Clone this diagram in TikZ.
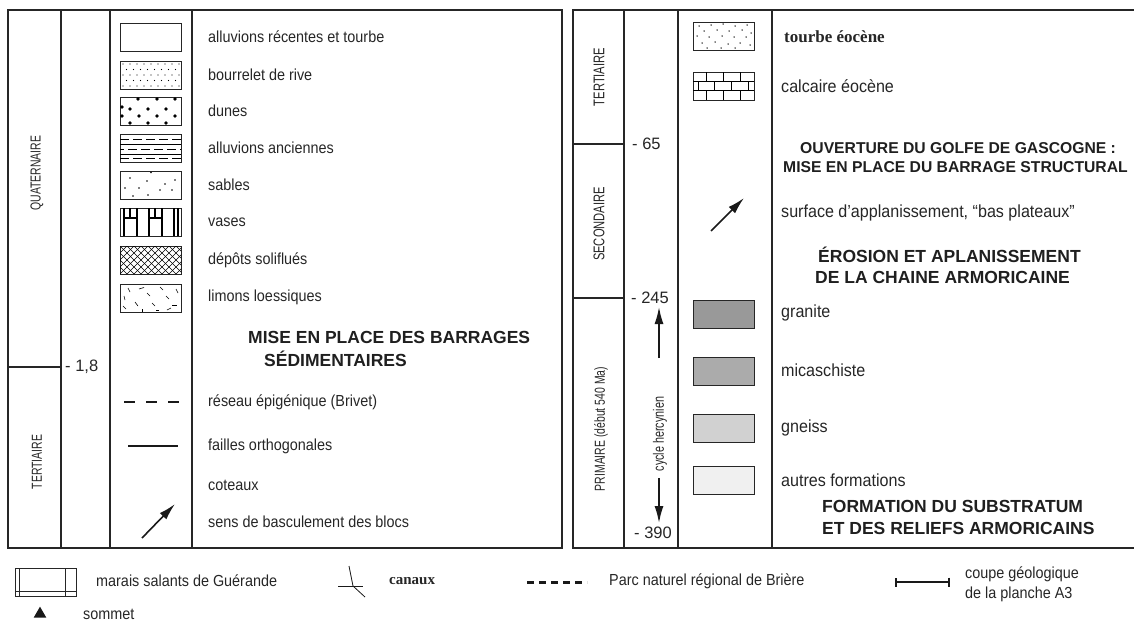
\documentclass[tikz,border=0pt]{standalone}
\usepackage{fontspec}
\setmainfont{Liberation Sans}
\newfontfamily\narrowf{Liberation Sans}[FakeStretch=0.9]
\newfontfamily\narrowrf{Liberation Sans}[FakeStretch=0.92]
\newfontfamily\vnarrowf{Liberation Sans}[FakeStretch=0.72]
\newfontfamily\serifbf{Liberation Serif}
\usetikzlibrary{arrows.meta,shapes.geometric}
\begin{document}
\begin{tikzpicture}[x=1pt,y=-1pt,
  frame/.style={draw=black!85,line width=1.1pt},
  lab/.style={anchor=west,font=\narrowf\fontsize{16}{19}\selectfont,text=black!85,inner sep=0},
  labr/.style={anchor=west,font=\narrowrf\fontsize{17.5}{20}\selectfont,text=black!85,inner sep=0},
  vlab/.style={rotate=90,font=\vnarrowf\fontsize{14.5}{16}\selectfont,text=black!85,inner sep=0},
  vlabr/.style={rotate=90,font=\vnarrowf\fontsize{15.5}{17}\selectfont,text=black!85,inner sep=0},
  head/.style={anchor=west,font=\bfseries\fontsize{17.5}{20}\selectfont,text=black!88,inner sep=0},
  headr/.style={anchor=west,font=\bfseries\fontsize{15.7}{18}\selectfont,text=black!88,inner sep=0},
  num/.style={anchor=west,font=\fontsize{16.5}{19}\selectfont,text=black!85,inner sep=0},
  slab/.style={anchor=west,font=\serifbf\bfseries\fontsize{15}{18}\selectfont,text=black!85,inner sep=0},
  sw/.style={draw=black!85,line width=0.9pt,minimum width=61pt,minimum height=28pt,inner sep=0,anchor=north west},
  arr/.style={-{Latex[length=17pt,width=9pt]},line width=1.6pt,black!90}
]
\useasboundingbox (0,0) rectangle (1134,627);

% ---------- left panel ----------
\draw[frame] (8,10) rectangle (562,548);
\draw[frame] (61,10) -- (61,548);
\draw[frame] (110,10) -- (110,548);
\draw[frame] (192,10) -- (192,548);
\draw[frame] (8,367) -- (61,367);
\node[vlab] (quat) at (37,173) {QUATERNAIRE};
\node[vlab] (tertl) at (37,462) {TERTIAIRE};
\node[num] (n18) at (65,367) {- 1,8};

% swatches left
\node[sw] (s1) at (120,23) {};
\node[sw] (s2) at (120,61) {};
\node[sw] (s3) at (120,97) {};
\node[sw] (s4) at (120,134) {};
\node[sw] (s5) at (120,171) {};
\node[sw] (s6) at (120,208) {};
\node[sw] (s7) at (120,246) {};
\node[sw] (s8) at (120,284) {};

\begin{scope}[shift={(s2.north west)}]
  \clip (0,0) rectangle (61,28);
  \foreach \j in {0,...,4} \foreach \i in {0,...,8}
    \fill ({3+\i*7+mod(\j,2)*3.5},{3+\j*5.5}) circle (0.6);
\end{scope}
\begin{scope}[shift={(s3.north west)}]
  \clip (0,0) rectangle (61,28);
  \foreach \p in {(18,2),(37,2),(55,2),(2,10),(10,12),(28,12),(46,12),(19,19),(37,19),(55,19),(2,19),(10,26),(28,26),(46,26)}
    \fill \p circle (1.9);
\end{scope}
\begin{scope}[shift={(s4.north west)},line width=0.7pt]
  \draw[dash pattern=on 9pt off 4pt] (0,5) -- (61,5);
  \draw (0,10) -- (61,10);
  \draw[dash pattern=on 9pt off 4pt,dash phase=5pt] (0,15) -- (61,15);
  \draw (0,20) -- (61,20);
  \draw[dash pattern=on 9pt off 4pt] (0,24.5) -- (61,24.5);
\end{scope}
\begin{scope}[shift={(s5.north west)}]
  \foreach \p in {(31,1.5),(10,7),(27,10),(55,9),(45,13),(5,17),(19,17),(40,19),(52,19),(13,25),(28,24)}
    \fill \p circle (0.9);
\end{scope}
\begin{scope}[shift={(s6.north west)},line width=1.3pt]
  \foreach \x in {4,17,29,42,54,58} \draw (\x,0) -- (\x,28);
  \draw (4,10) -- (17,10);
  \draw (29,10) -- (42,10);
  \draw (10,0) -- (10,10);
  \draw (35,0) -- (35,10);
\end{scope}
\begin{scope}[shift={(s7.north west)},line width=0.6pt]
  \clip (0,0) rectangle (61,28);
  \foreach \k in {-35,-28,...,70} {\draw (\k,0) -- ++(28,28); \draw (\k,28) -- ++(28,-28);}
\end{scope}
\begin{scope}[shift={(s8.north west)},line width=0.6pt]
  \draw (8,4) -- (10,8);
  \draw (4,12) -- (5,16);
  \draw (19,5) -- (24,3.5);
  \draw (27,9) -- (30,12);
  \draw (40,3) -- (43,6);
  \draw (46,12) -- (49,15);
  \draw (15,18) -- (18,22);
  \draw (3,22) -- (6,25);
  \draw (32,19) -- (35,22);
  \draw (52,21) -- (57,21);
  \draw (47,26) -- (51,24);
  \draw (22,25) -- (22,28);
  \draw (56,5) -- (58,9);
  \draw (36,26) -- (39,26);
\end{scope}

\node[lab] (t1) at (208,37) {alluvions récentes et tourbe};
\node[lab] (t2) at (208,75) {bourrelet de rive};
\node[lab] (t3) at (208,111) {dunes};
\node[lab] (t4) at (208,148) {alluvions anciennes};
\node[lab] (t5) at (208,185) {sables};
\node[lab] (t6) at (208,222) {vases};
\node[lab] (t7) at (208,260) {dépôts soliflués};
\node[lab] (t8) at (208,297) {limons loessiques};

\node[head] (hl1) at (248,337) {MISE EN PLACE DES BARRAGES};
\node[head] (hl2) at (264,359) {SÉDIMENTAIRES};

\coordinate (d1) at (124,402); \coordinate (d2) at (180,402);
\draw[line width=2pt,dash pattern=on 11pt off 11pt,black!90] (d1) -- (d2);
\coordinate (f1) at (128,446); \coordinate (f2) at (178,446);
\draw[line width=1.6pt,black!90] (f1) -- (f2);
\coordinate (a1) at (142,538); \coordinate (a2) at (175,504);
\draw[arr] (a1) -- (a2);

\node[lab] (t9) at (208,402) {réseau épigénique (Brivet)};
\node[lab] (t10) at (208,446) {failles orthogonales};
\node[lab] (t11) at (208,485) {coteaux};
\node[lab] (t12) at (208,522) {sens de basculement des blocs};

% ---------- right panel ----------
\draw[frame] (1136,10) -- (573,10) -- (573,548) -- (1136,548);
\draw[frame] (624,10) -- (624,548);
\draw[frame] (678,10) -- (678,548);
\draw[frame] (772,10) -- (772,548);
\draw[frame] (573,144) -- (624,144);
\draw[frame] (573,298) -- (624,298);
\node[vlabr] (tertr) at (599,77) {TERTIAIRE};
\node[vlabr] (sec) at (599,224) {SECONDAIRE};
\node[vlab] (prim) at (601,429) {PRIMAIRE (début  540 Ma)};
\node[num] (n65) at (632,144) {- 65};
\node[num] (n245) at (631,298) {- 245};
\node[num] (n390) at (634,533) {- 390};
\node[vlab,font=\vnarrowf\fontsize{15}{17}\selectfont] (cyc) at (660,434) {cycle hercynien};
\coordinate (u1) at (659,358); \coordinate (u2) at (659,307);
\draw[arr] (u1) -- (u2);
\coordinate (w1) at (659,478); \coordinate (w2) at (659,523);
\draw[arr] (w1) -- (w2);

\node[sw] (r1) at (693,22) {};
\node[sw] (r2) at (693,72) {};
\node[sw,fill=black!40] (r3) at (693,300) {};
\node[sw,fill=black!33] (r4) at (693,357) {};
\node[sw,fill=black!18] (r5) at (693,414) {};
\node[sw,fill=black!6] (r6) at (693,466) {};

\begin{scope}[shift={(r1.north west)}]
  \foreach \p in {(6,4),(18,3),(30,2),(42,4),(54,3),(11,9),(24,8),(36,9),(49,8),(58,11),(4,14),(16,15),(29,14),(41,15),(53,15),(9,21),(22,20),(35,22),(47,21),(57,23),(14,26),(28,26),(42,26)}
    \fill \p circle (0.75);
\end{scope}
\begin{scope}[shift={(r2.north west)},line width=0.8pt]
  \draw (0,9.3) -- (61,9.3);
  \draw (0,18.7) -- (61,18.7);
  \foreach \x in {13,30,47} \draw (\x,0) -- (\x,9.3);
  \foreach \x in {5,21,38,55} \draw (\x,9.3) -- (\x,18.7);
  \foreach \x in {13,30,47} \draw (\x,18.7) -- (\x,28);
\end{scope}

\node[slab,font=\serifbf\bfseries\fontsize{17}{20}\selectfont] (rt1) at (784,37) {tourbe éocène};
\node[labr] (rt2) at (781,86) {calcaire éocène};
\node[headr] (hr1) at (800,148) {OUVERTURE DU GOLFE DE GASCOGNE :};
\node[headr] (hr2) at (783,167) {MISE EN PLACE DU BARRAGE STRUCTURAL};
\coordinate (b1) at (711,231); \coordinate (b2) at (744,198);
\draw[arr] (b1) -- (b2);
\node[labr] (rt3) at (781,213) {surface d’applanissement,  “bas plateaux”};
\node[head] (hr3) at (818,255) {ÉROSION ET APLANISSEMENT};
\node[head] (hr4) at (815,277) {DE LA CHAINE ARMORICAINE};
\node[labr] (rt4) at (781,313) {granite};
\node[labr] (rt5) at (781,370) {micaschiste};
\node[labr] (rt6) at (781,428) {gneiss};
\node[labr] (rt7) at (781,480) {autres formations};
\node[head] (hr5) at (822,506) {FORMATION DU SUBSTRATUM};
\node[head] (hr6) at (822,528) {ET DES RELIEFS ARMORICAINS};

% ---------- bottom legend ----------
\node[sw,line width=0.8pt] (m1) at (15,568) {};
\draw[line width=0.7pt,black!85] (19,568) -- (19,596);
\draw[line width=0.7pt,black!85] (65,568) -- (65,596);
\draw[line width=0.7pt,black!85] (15,591) -- (76,591);
\node[lab] (mt) at (96,581) {marais salants de Guérande};

\coordinate (c1) at (349,566); \coordinate (c2) at (353,586); \coordinate (c3) at (365,597);
\coordinate (c4) at (338,586); \coordinate (c5) at (363,586);
\draw[line width=0.8pt,black!90] (c1) -- (c2) -- (c3);
\draw[line width=0.8pt,black!90] (c4) -- (c5);
\node[slab] (ct) at (389,581) {canaux};

\coordinate (p1) at (527,582); \coordinate (p2) at (587,582);
\draw[line width=3pt,dash pattern=on 7pt off 5pt,black!90] (p1) -- (p2);
\node[lab] (pt) at (609,581) {Parc naturel régional de Brière};

\coordinate (k1) at (895,582); \coordinate (k2) at (950,582);
\draw[line width=1.6pt,black!90,{Bar[width=9pt]}-{Bar[width=9pt]}] (k1) -- (k2);
\node[lab,align=left,anchor=north west,font=\narrowf\fontsize{16}{20}\selectfont] (kt) at (965,567) {coupe géologique\\de la planche A3};

\node[fill=black!90,isosceles triangle,isosceles triangle apex angle=60,shape border rotate=90,inner sep=0,minimum height=11pt,minimum width=10pt] (som) at (40,614) {};
\node[lab] (st) at (83,614) {sommet};
\end{tikzpicture}
\end{document}
